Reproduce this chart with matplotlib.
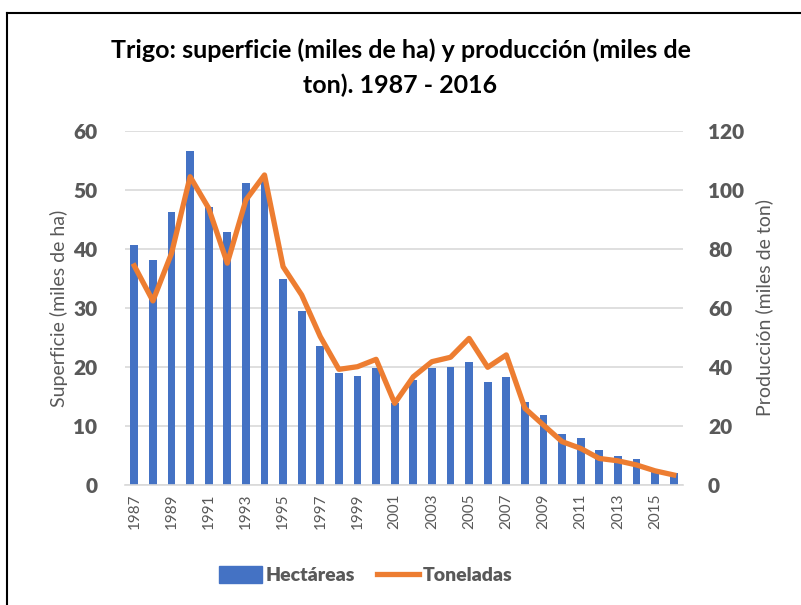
import numpy as np
import matplotlib.pyplot as plt
from matplotlib.lines import Line2D
from matplotlib.patches import Patch

plt.rcParams['font.family'] = ['Lato', 'DejaVu Sans']

years = list(range(1987, 2017))
hectareas = [40.7, 38.1, 46.3, 56.6, 47.1, 42.8, 51.2, 51.5, 34.9, 29.5,
             23.6, 19.0, 18.5, 19.8, 13.9, 17.8, 19.8, 20.0, 20.8, 17.5,
             18.3, 14.1, 11.8, 8.6, 7.9, 5.9, 4.9, 4.4, 2.7, 2.1]
toneladas = [74.3, 62.4, 78.5, 104.5, 93.8, 75.2, 96.6, 105.1, 74.0, 64.4,
             50.3, 39.2, 40.1, 42.6, 27.7, 36.7, 41.8, 43.3, 49.7, 39.9,
             44.1, 26.0, 20.3, 14.7, 12.4, 9.0, 8.2, 6.8, 4.8, 3.4]

blue = '#4472C4'
orange = '#ED7D31'
gray = '#595959'

fig = plt.figure(figsize=(8.01, 6.05), dpi=100)
ax = fig.add_axes([125/801, 1-485/605, 558/801, 354/605])
ax2 = ax.twinx()

x = np.arange(len(years))
ax.bar(x, hectareas, width=0.42, color=blue, zorder=2)
ax2.plot(x, toneladas, color=orange, linewidth=3.8, solid_joinstyle='round', zorder=3)

ax.set_xlim(-0.5, len(years) - 0.5)
ax.set_ylim(0, 60)
ax2.set_ylim(0, 120)
ax.set_yticks(range(0, 61, 10))
ax2.set_yticks(range(0, 121, 20))

ax.grid(axis='y', color='#d9d9d9', linewidth=1.2, zorder=0)
ax.set_axisbelow(True)
for a in (ax, ax2):
    for s in a.spines.values():
        s.set_visible(False)
ax.spines['bottom'].set_visible(True)
ax.spines['bottom'].set_color('#d9d9d9')
ax.spines['bottom'].set_linewidth(1.2)

ax.set_xticks(x[::2])
ax.set_xticklabels([str(y) for y in years[::2]], rotation=90, fontsize=11, color=gray)
ax.tick_params(axis='x', length=0, pad=6)
ax.tick_params(axis='y', length=0, pad=20, labelsize=15, labelcolor=gray)
ax2.tick_params(axis='y', length=0, pad=18, labelsize=15, labelcolor=gray)
for lab in ax.get_yticklabels() + ax2.get_yticklabels():
    lab.set_fontweight('heavy')

ax.set_ylabel('Superficie (miles de ha)', fontsize=14, color=gray)
ax2.set_ylabel('Producción (miles de ton)', fontsize=14, color=gray)
ax.yaxis.set_label_coords(-0.102, 0.5)
ax2.yaxis.set_label_coords(1.129, 0.5)

fig.text(0.5, 1-50/605, 'Trigo: superficie (miles de ha) y producción (miles de',
         ha='center', va='center', fontsize=18, fontweight='bold', color='black')
fig.text(0.5, 1-85/605, 'ton). 1987 - 2016',
         ha='center', va='center', fontsize=18, fontweight='bold', color='black')

handles = [Patch(color=blue), Line2D([0], [0], color=orange, linewidth=3.8)]
fig.legend(handles, ['Hectáreas', 'Toneladas'], loc='center', bbox_to_anchor=(366/801, 1-575/605),
           ncol=2, frameon=False, prop={'size': 14, 'weight': 'heavy'}, labelcolor=gray,
           handlelength=2.2, handleheight=1.0, handletextpad=0.2, columnspacing=1.1)

# chart border (left and top edges visible in the crop)
fig.add_artist(Line2D([7/801, 7/801], [0, 1-13/605], color='black', linewidth=1.5))
fig.add_artist(Line2D([7/801, 1], [1-13/605, 1-13/605], color='black', linewidth=1.5))

fig.savefig('out.png', dpi=100)
